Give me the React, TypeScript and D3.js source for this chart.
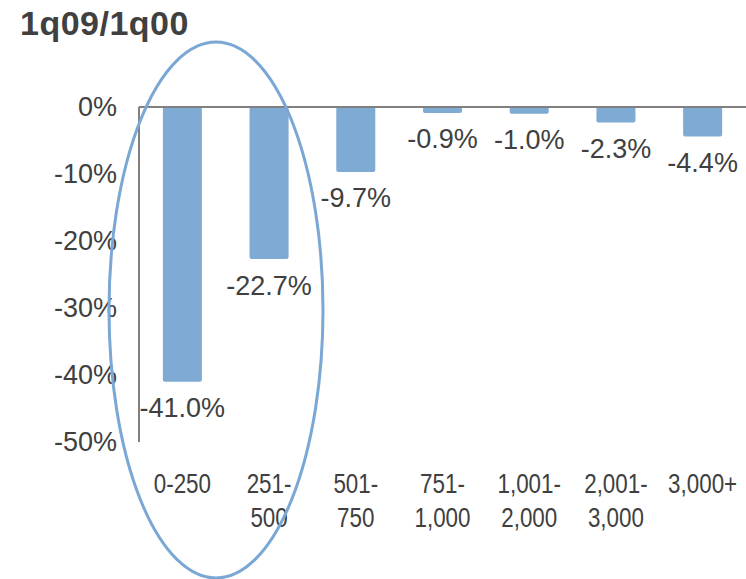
import React from "react";
import * as d3 from "d3";

const categories = ["0-250", "251-\n500", "501-\n750", "751-\n1,000", "1,001-\n2,000", "2,001-\n3,000", "3,000+"];
const values = [-41.0, -22.7, -9.7, -0.9, -1.0, -2.3, -4.4];
const valueLabels = ["-41.0%", "-22.7%", "-9.7%", "-0.9%", "-1.0%", "-2.3%", "-4.4%"];
const yTicks = [0, -10, -20, -30, -40, -50];

export default function App() {
  const W = 746, H = 579;
  const x = d3.scaleBand<string>().domain(categories).range([139, 746]).paddingInner(0.55).paddingOuter(0.275);
  const y = d3.scaleLinear().domain([-50, 0]).range([442, 107]);
  const txt = "#404040";
  const axisCol = "#808080";
  return (
    <svg width={W} height={H} style={{ position: "absolute", left: 0, top: 0 }} fontFamily="Liberation Sans, Arial, sans-serif">
      <text x={20} y={35} fontSize={34} fontWeight="bold" fill={txt} letterSpacing={0.5}>1q09/1q00</text>
      {values.map((v, i) => (
        <rect key={i} x={x(categories[i])} y={y(0)} width={x.bandwidth()} height={y(v) - y(0)} fill="#7eaad3" rx={2} />
      ))}
      <line x1={139} x2={746} y1={y(0)} y2={y(0)} stroke={axisCol} strokeWidth={2} />
      <line x1={139} x2={139} y1={y(0)} y2={y(-50)} stroke={axisCol} strokeWidth={2} />
      {yTicks.map((t) => (
        <text key={t} x={117} y={y(t)} dy="0.35em" textAnchor="end" fontSize={27} fill={txt}>{t}%</text>
      ))}
      {values.map((v, i) => (
        <text key={i} x={x(categories[i])! + x.bandwidth() / 2} y={y(v) + 26} dy="0.35em" textAnchor="middle" fontSize={27} fill={txt}>{valueLabels[i]}</text>
      ))}
      {categories.map((c) => {
        const cx = x(c)! + x.bandwidth() / 2;
        return (
          <g key={c} transform={`translate(${cx},0) scale(0.8,1)`}>
            <text x={0} y={483} textAnchor="middle" fontSize={28} fill={txt}>
              {c.split("\n").map((line, j) => (
                <tspan key={j} x={0} dy={j === 0 ? "0.35em" : 34}>{line}</tspan>
              ))}
            </text>
          </g>
        );
      })}
      <ellipse cx={216} cy={310} rx={107} ry={268} fill="none" stroke="#7aa7d4" strokeWidth={3} />
    </svg>
  );
}
